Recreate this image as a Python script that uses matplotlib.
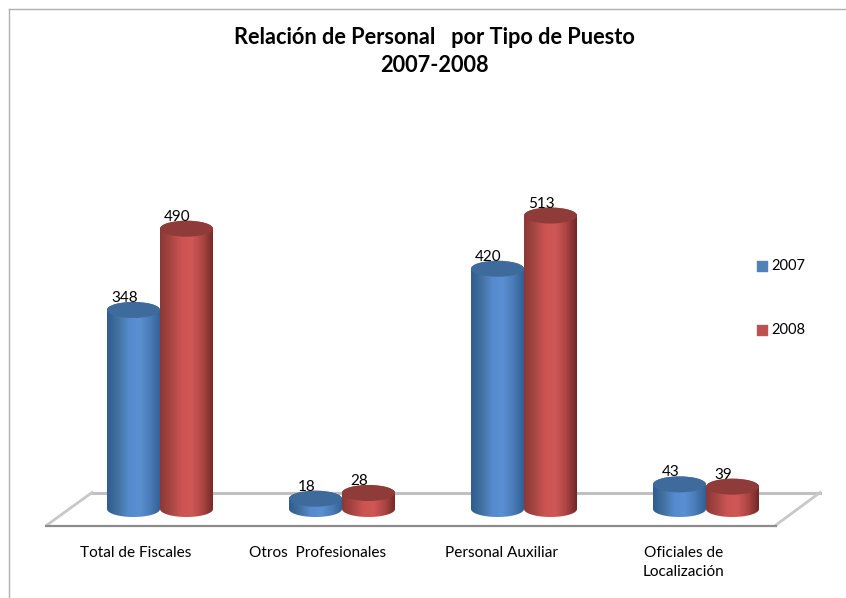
import numpy as np
import matplotlib
matplotlib.use('Agg')
import matplotlib.pyplot as plt
from matplotlib.colors import LinearSegmentedColormap
from matplotlib.lines import Line2D
from matplotlib.patches import Ellipse, PathPatch, Rectangle
from matplotlib.path import Path

categories = ['Total de Fiscales', 'Otros  Profesionales', 'Personal Auxiliar', 'Oficiales de\nLocalización']
years = ['2007', '2008']
values2007 = [348, 18, 420, 43]
values2008 = [490, 28, 513, 39]

plt.rcParams['font.family'] = ['Lato', 'DejaVu Sans']

W, H = 846, 598
pxPerCat = 182.0    # pixels between two groups
pxPerUnit = 0.572   # pixels per person
zeroX, zeroY = 160.0, 509.0  # pixel of first group centre, value 0
barW = 53.0 / pxPerCat
capH = 8.0 / pxPerUnit  # half height of the ellipses

fig = plt.figure(figsize=(W / 100, H / 100), dpi=100)
ax = fig.add_axes([0, 0, 1, 1])
ax.axis('off')

def figLine(xs, ys, **kw):
  # style lines given in picture pixels (frame and floor), kept in ax so they stay behind the bars
  ax.add_line(Line2D([x / W for x in xs], [1 - y / H for y in ys], transform=fig.transFigure, zorder=1, **kw))

def cylinder(x, val, cmap, capColor):
  left, right = x - barW / 2, x + barW / 2
  t = np.linspace(np.pi, 2 * np.pi, 40)
  lowX = x + barW / 2 * np.cos(t)
  lowY = capH * np.sin(t)
  upX = lowX[::-1]
  upY = val - capH * np.sin(t)
  verts = np.concatenate([np.column_stack([lowX, lowY]), np.column_stack([upX, upY]), [[lowX[0], lowY[0]]]])
  codes = [Path.MOVETO] + [Path.LINETO] * (len(verts) - 2) + [Path.CLOSEPOLY]
  clip = PathPatch(Path(verts, codes), transform=ax.transData, facecolor='none', edgecolor='none')
  ax.add_patch(clip)
  im = ax.imshow(np.linspace(0, 1, 128).reshape(1, -1), extent=[left, right, -capH, val + capH],
                 aspect='auto', cmap=cmap, zorder=3, interpolation='bilinear')
  im.set_clip_path(clip)
  ax.add_patch(Ellipse((x, val), barW, 2 * capH, facecolor=capColor, edgecolor='none', zorder=3))

blueMap = LinearSegmentedColormap.from_list('b', ['#2f5c92', '#43719f', '#558ace', '#5a8fd2', '#4a7cb8', '#335f93'])
redMap = LinearSegmentedColormap.from_list('r', ['#8b3836', '#a84644', '#cc5553', '#cf5755', '#ab4543', '#6f2827'])
styles = [(values2007, -barW / 2, blueMap, '#3f6a9c', '#4f81bd'),
          (values2008, barW / 2, redMap, '#8f3b39', '#c0504d')]

# frame
figLine([8.5, 8.5], [8.5, 598], color='#b0b0b0', lw=1.0)
figLine([8.5, 846], [8.5, 8.5], color='#b0b0b0', lw=1.0)

# floor
figLine([92, 820], [492.5, 492.5], color='#c0c0c0', lw=2.2)
figLine([92, 47], [492.5, 525], color='#c8c8c8', lw=2.0)
figLine([820, 776], [492.5, 525], color='#c8c8c8', lw=2.0)
figLine([46, 776], [525.5, 525.5], color='#8c8c8c', lw=1.6)

xPos = np.arange(len(categories))
for vals, off, cmap, capColor, _ in styles:
  for x, v in zip(xPos, vals):
    cylinder(x + off, v, cmap, capColor)
    ax.annotate(str(v), (x + off, v), xytext=(-9, 8), textcoords='offset pixels',
                ha='center', va='baseline', fontsize=11, color='black', zorder=5)

labelCenters = [136, 318, 501, 684]
for cx, name in zip(labelCenters, categories):
  fig.text(cx / W, 1 - 546 / H, name, ha='center', va='top', fontsize=11.1, color='black', linespacing=1.5)

# title
fig.text(434 / W, 1 - 38 / H, 'Relación de Personal   por Tipo de Puesto', ha='center', va='center',
         fontsize=15.7, fontweight='bold', color='black')
fig.text(434 / W, 1 - 66 / H, '2007-2008', ha='center', va='center', fontsize=15.7, fontweight='bold', color='black')

# legend
for yr, ly, st in zip(years, [266, 330], styles):
  fig.add_artist(Rectangle((757 / W, 1 - (ly + 5.5) / H), 11 / W, 11 / H, transform=fig.transFigure,
                           facecolor=st[4], edgecolor='#7f7f7f', lw=0.3))
  fig.text(771.5 / W, 1 - ly / H, yr, ha='left', va='center', fontsize=10.5, color='black')

ax.set_xlim(-zeroX / pxPerCat, (W - zeroX) / pxPerCat)
ax.set_ylim(-(H - zeroY) / pxPerUnit, zeroY / pxPerUnit)

fig.savefig('out.png', dpi=100)
